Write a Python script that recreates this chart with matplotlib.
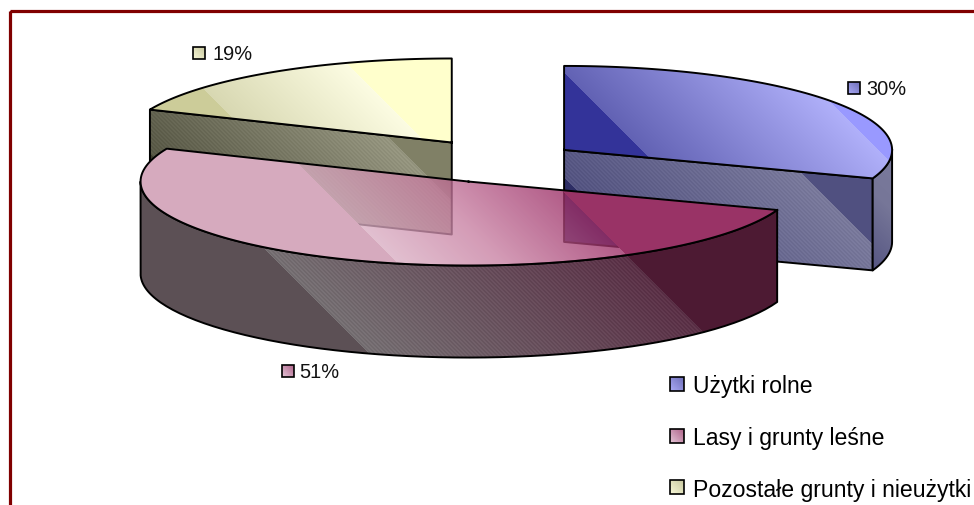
# -*- coding: utf-8 -*-
import numpy as np
import matplotlib
matplotlib.use("Agg")
import matplotlib.pyplot as plt
from matplotlib.patches import Polygon, Rectangle

plt.rcParams['font.family'] = ['Liberation Sans', 'DejaVu Sans']

categories = ["Użytki rolne", "Lasy i grunty leśne", "Pozostałe grunty i nieużytki"]
values = [30.5, 50.9, 18.6]
pct_labels = ["30%", "51%", "19%"]

W, H = 974, 506
A, B = 328, 84      # ellipse radii, px
DEPTH = 92
EXPLODE = 0.25
CENTER = (497, 163)

fig = plt.figure(figsize=(W / 100, H / 100), dpi=100)
ax = fig.add_axes([0, 0, 1, 1])

yy, xx = np.mgrid[0:H, 0:W]
uu = (xx + 0.5) - (yy + 0.5)
layer = [1]


def slice_center(a0, a1):
    mid = np.radians((a0 + a1) / 2)
    return CENTER[0] + EXPLODE * A * np.sin(mid), CENTER[1] - EXPLODE * B * np.cos(mid)


def arc(cx, cy, a0, a1, dy=0):
    t = np.radians(np.linspace(a0, a1, 120))
    return np.column_stack([cx + A * np.sin(t), cy - B * np.cos(t) + dy])


def shade(pts, stops, alpha=None, stripes=0):
    # diagonal gradient clipped to the polygon, stops are (u, rgb) with u = x - y
    us = [s[0] for s in stops]
    img = np.ones((H, W, 4))
    for k in range(3):
        img[..., k] = np.interp(uu, us, [s[1][k] for s in stops])
    if stripes:
        # fine hatch only in the gradient part, the corner bands are flat
        band = (uu > us[1]) & (uu < us[-2])
        img[..., :3] += (stripes * (np.floor(uu / 2) % 2 - 0.5) * band)[..., None]
    if alpha:
        lo, hi, a = alpha
        inside = (uu > lo) & (uu <= hi)
        img[inside, :3] = (img[inside, :3] - (1 - a) * 255) / a
        img[inside, 3] = a
    img[..., :3] = np.clip(img[..., :3], 0, 255) / 255
    im = ax.imshow(img, extent=(0, W, H, 0), aspect='auto', interpolation='nearest',
                   zorder=layer[0])
    im.set_clip_path(Polygon(pts, closed=True, transform=ax.transData))
    edge = np.vstack([pts, pts[:1]])
    ax.plot(edge[:, 0], edge[:, 1], color='black', lw=1.4, solid_joinstyle='round',
            zorder=layer[0] + 1)
    layer[0] += 2


def swatch(x, y, s, c0, c1):
    grad = np.linspace(0, 1, 20)[None, :, None]
    diag = (grad + np.linspace(1, 0, 20)[:, None, None]) / 2
    img = (np.array(c0) * (1 - diag) + np.array(c1) * diag) / 255
    ax.imshow(img, extent=(x, x + s, y + s, y), aspect='auto', interpolation='bilinear',
              zorder=500)
    ax.add_patch(Rectangle((x, y), s, s, fill=False, ec='black', lw=1.2, zorder=501))


ends = np.cumsum(values) / sum(values) * 360
blue_a = (0, ends[0])
pink_a = (ends[0], ends[1])
yell_a = (ends[1], 360)

# yellow slice, drawn first
cx, cy = slice_center(*yell_a)
cy -= 2
p0 = arc(cx, cy, yell_a[0], yell_a[0])[0]
shade(np.array([[cx, cy], p0, p0 + [0, DEPTH], [cx, cy + DEPTH]]),
      [(-5, (62, 62, 46)), (-4.5, (88, 88, 70)), (250, (150, 150, 128)),
       (250.5, (128, 128, 102))], stripes=8)
shade(np.vstack([[[cx, cy]], arc(cx, cy, *yell_a)]),
      [(113, (204, 204, 153)), (113.5, (216, 216, 178)), (282, (252, 252, 226)),
       (282.5, (255, 255, 204))])

# blue slice
cx, cy = slice_center(*blue_a)
p1 = arc(cx, cy, blue_a[1], blue_a[1])[0]
shade(np.array([[cx, cy], p1, p1 + [0, DEPTH], [cx, cy + DEPTH]]),
      [(385, (45, 45, 100)), (385.5, (85, 85, 130)), (627, (122, 122, 156)),
       (627.5, (80, 80, 128))], stripes=8)
shade(np.vstack([arc(cx, cy, 90, blue_a[1]), arc(cx, cy, blue_a[1], 90, DEPTH)]),
      [(600, (85, 85, 130)), (680, (118, 118, 152)), (740, (122, 122, 156))], stripes=8)
shade(np.vstack([[[cx, cy]], arc(cx, cy, *blue_a)]),
      [(490, (51, 51, 153)), (490.5, (98, 98, 180)), (727, (176, 176, 250)),
       (727.5, (153, 153, 255))])

# pink slice on top of both, its gradient part lets the others show through
cx, cy = slice_center(*pink_a)
cx += 1.5
shade(np.vstack([arc(cx, cy, pink_a[0], 270), arc(cx, cy, 270, pink_a[0], DEPTH)]),
      [(14, (92, 80, 85)), (14.5, (118, 112, 115)), (370, (92, 50, 72)),
       (370.5, (77, 26, 51))], stripes=10)
shade(np.vstack([[[cx, cy]], arc(cx, cy, *pink_a)]),
      [(133, (214, 170, 190)), (133.5, (226, 192, 208)), (240, (212, 155, 182)),
       (370, (178, 92, 136)), (370.5, (153, 51, 102))], alpha=(133.5, 370, 0.78))

# chart area border, runs off the right and bottom of the picture
ax.add_patch(Rectangle((9.5, 11.5), W + 20, H + 20, fill=False, ec='#800000', lw=2.3,
                       zorder=400))

# data labels
label_pos = [(848, 83, 866, 87), (282, 366, 299, 371), (193, 48, 212, 52.5)]
swatch_cols = [((170, 170, 245), (110, 110, 185)),
               ((228, 196, 214), (175, 100, 138)),
               ((248, 248, 215), (200, 200, 160))]
for txt, (sx, sy, tx, ty), c in zip(pct_labels, label_pos, swatch_cols):
    swatch(sx, sy, 12, *c)
    ax.text(tx, ty, txt, fontsize=14.4, color='#111111', va='center_baseline', ha='left',
            zorder=502)

# legend
legend_y = [384, 436, 488]
swatch_y = [378, 430, 481]
for name, y, sy, c in zip(categories, legend_y, swatch_y, swatch_cols):
    swatch(670, sy, 14, *c)
    ax.text(693, y, name, fontsize=16.6, color='black', va='center_baseline', ha='left',
            zorder=502)

ax.set_xlim(0, W)
ax.set_ylim(H, 0)
ax.axis('off')
fig.savefig("out.png", dpi=100, facecolor='white')
